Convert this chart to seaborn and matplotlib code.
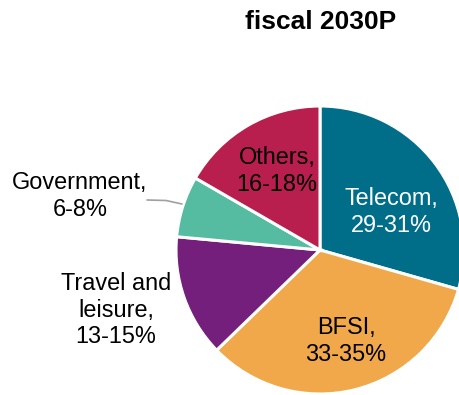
import matplotlib
matplotlib.use("Agg")
import matplotlib.pyplot as plt
import seaborn as sns

# Revenue share by vertical, fiscal 2030 projection (ranges, mid-point drives the slice)
segments = ["Telecom", "BFSI", "Travel and\nleisure", "Government", "Others"]
low = [29, 33, 13, 6, 16]
high = [31, 35, 15, 8, 18]
share = [(a + b) / 2 for a, b in zip(low, high)]
colors = ["#006E89", "#F0A84A", "#751F7D", "#55BCA1", "#B81F4E"]

sns.set_theme(style="white")
plt.rcParams["font.family"] = ["Liberation Sans", "DejaVu Sans"]

W, H = 460, 395
fig = plt.figure(figsize=(W / 100, H / 100), dpi=100)
ax = fig.add_axes([0, 0, 1, 1])

cx, cy, r = 320, H - 250, 144
ax.pie(share, colors=sns.color_palette(colors), startangle=90, counterclock=False,
       radius=r, center=(cx, cy), frame=True,
       wedgeprops=dict(edgecolor="white", linewidth=2.2))
ax.set_xlim(0, W)
ax.set_ylim(0, H)
ax.set_aspect("equal")
ax.axis("off")

labels = [f"{s},\n{a}-{b}%" for s, a, b in zip(segments, low, high)]
label_pos = [(391, 212), (346, 341), (116, 310), (80, 196), (277, 171)]
text_colors = ["white", "black", "black", "black", "black"]
for txt, (x, y), c in zip(labels, label_pos, text_colors):
    ax.text(x, H - y, txt, ha="center", va="center", fontsize=16.9,
            color=c, linespacing=1.2)

# leader line for the thin Government slice
ax.plot([147, 166, 182], [H - 200, H - 200.5, H - 204], color="#A0A0A0", lw=1.2)

fig.text(321 / W, 1 - 29 / H, "fiscal 2030P", ha="center", va="baseline",
         fontsize=19, fontweight="bold", color="black")

fig.savefig("out.png", dpi=100)
